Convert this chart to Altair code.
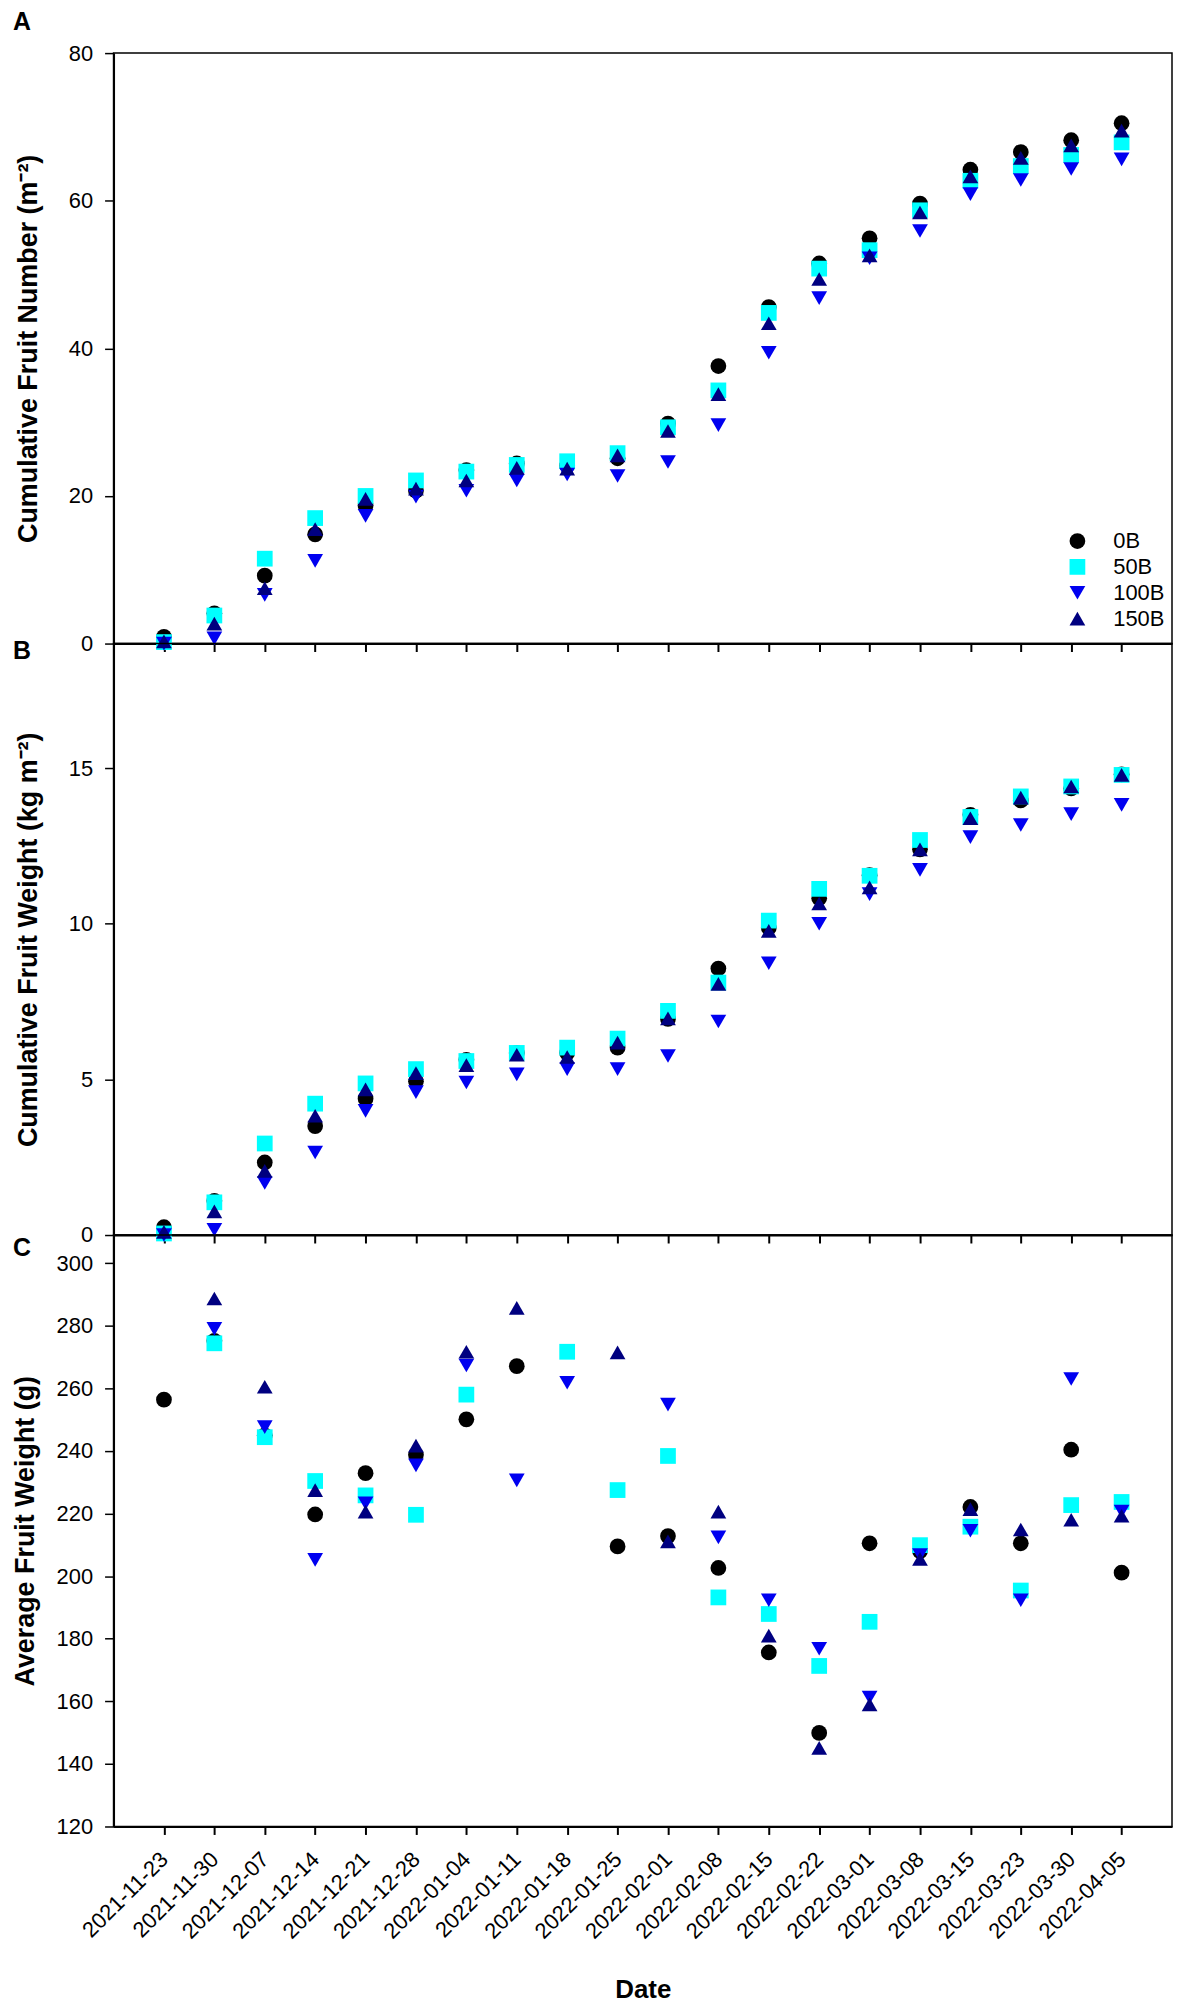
import altair as alt
import pandas as pd

dates = ["2021-11-23", "2021-11-30", "2021-12-07", "2021-12-14", "2021-12-21", "2021-12-28",
         "2022-01-04", "2022-01-11", "2022-01-18", "2022-01-25", "2022-02-01", "2022-02-08",
         "2022-02-15", "2022-02-22", "2022-03-01", "2022-03-08", "2022-03-15", "2022-03-23",
         "2022-03-30", "2022-04-05"]
treatments = ["0B", "50B", "100B", "150B"]

# Panel A: cumulative fruit number (m-2)
num_0B = [0.9, 4.1, 9.2, 14.8, 18.7, 20.7, 23.5, 24.4, 24.1, 25.1, 29.8, 37.6, 45.6, 51.5, 54.9, 59.6, 64.2, 66.6, 68.2, 70.5]
num_50B = [0.2, 3.8, 11.5, 17.0, 20.0, 22.1, 23.3, 24.2, 24.7, 25.8, 29.3, 34.3, 44.8, 50.8, 53.3, 58.7, 62.7, 64.7, 66.2, 67.9]
num_100B = [0.0, 0.7, 6.6, 11.2, 17.3, 19.9, 20.7, 22.1, 22.9, 22.7, 24.6, 29.6, 39.4, 46.8, 52.2, 55.9, 60.9, 62.8, 64.3, 65.6]
num_150B = [0.3, 2.7, 7.5, 15.5, 19.6, 21.0, 22.1, 23.8, 23.7, 25.5, 28.8, 33.8, 43.4, 49.4, 52.6, 58.4, 63.3, 65.8, 67.5, 69.5]

# Panel B: cumulative fruit weight (kg m-2)
wt_0B = [0.25, 1.1, 2.33, 3.50, 4.38, 4.94, 5.63, 5.85, 5.85, 6.02, 6.94, 8.56, 9.87, 10.82, 11.56, 12.39, 13.5, 13.96, 14.35, 14.8]
wt_50B = [0.05, 1.05, 2.94, 4.22, 4.87, 5.33, 5.59, 5.85, 6.02, 6.31, 7.2, 8.11, 10.1, 11.12, 11.54, 12.69, 13.43, 14.09, 14.41, 14.78]
wt_100B = [0.0, 0.17, 1.67, 2.65, 3.99, 4.59, 4.9, 5.16, 5.33, 5.33, 5.75, 6.86, 8.73, 10.0, 10.95, 11.73, 12.78, 13.17, 13.52, 13.82]
wt_150B = [0.1, 0.76, 2.06, 3.83, 4.68, 5.2, 5.46, 5.79, 5.72, 6.18, 6.96, 8.07, 9.77, 10.65, 11.17, 12.39, 13.39, 14.05, 14.41, 14.78]

# Panel C: average fruit weight (g); None = no point
avg_0B = [256.4, 275.2, 245.0, 219.7, 232.9, 238.8, 250.1, 267.1, None, 209.5, 212.8, 202.6, 175.6, 149.9, 210.5, 208.0, 222.1, 210.5, 240.4, 201.1]
avg_50B = [None, 274.4, 244.4, 230.4, 225.8, 219.6, 258.0, None, 271.7, 227.5, 238.4, 193.2, 187.9, 171.3, 185.4, 209.9, 215.8, 195.4, 222.7, 223.7]
avg_100B = [None, 279.0, 247.6, 205.2, 223.3, 235.4, 267.3, 230.6, 261.8, None, 254.8, 212.4, 192.3, 176.8, 161.2, 206.7, 214.5, 192.3, 263.0, 220.6]
avg_150B = [None, 288.7, 260.5, 227.5, 220.6, 241.7, 271.7, 285.7, None, 271.5, 211.1, 220.6, 181.0, 145.1, 159.0, 205.5, 221.4, 214.9, 218.0, 219.3]

colors = ["#000000", "#00ffff", "#0000f0", "#000080"]
shapes = ["circle", "square", "triangle-down", "triangle-up"]

FONT = "Liberation Sans"


def long_df(series):
    rows = []
    for t, vals in zip(treatments, series):
        for d, v in zip(dates, vals):
            if v is not None:
                rows.append({"date": d, "treatment": t, "value": v})
    return pd.DataFrame(rows)


df_a = long_df([num_0B, num_50B, num_100B, num_150B])
df_b = long_df([wt_0B, wt_50B, wt_100B, wt_150B])
df_c = long_df([avg_0B, avg_50B, avg_100B, avg_150B])

W = 1063


def panel(df, ytitle, domain, ticks, letter, letter_dy, height, bottom, legend, title_pad):
    if bottom:
        xaxis = alt.Axis(title="Date", labelAngle=-45, labelFontSize=22, labelPadding=21,
                         labelAlign="right", labelBaseline="middle",
                         titleFontSize=26, titleFontWeight="bold", titlePadding=34,
                         tickSize=8, tickWidth=2, domainWidth=2, grid=False)
    else:
        xaxis = alt.Axis(title=None, labels=False, tickSize=8, tickWidth=2,
                         domainWidth=2, grid=False)
    if legend:
        leg = alt.Legend(orient="none", legendX=957, legendY=479, title=None,
                         labelFontSize=22, symbolSize=250, labelOffset=25,
                         rowPadding=4, padding=0, symbolStrokeWidth=0,
                         labelColor="black", labelFont=FONT)
    else:
        leg = None
    return alt.Chart(df).mark_point(filled=True, size=250, opacity=1, strokeWidth=0).encode(
        x=alt.X("date:O", sort=dates,
                scale=alt.Scale(type="point", padding=1, domain=dates), axis=xaxis),
        y=alt.Y("value:Q", scale=alt.Scale(domain=domain, nice=False, zero=False),
                axis=alt.Axis(values=ticks, title=ytitle, titleFontSize=27,
                              titleFontWeight="bold", titlePadding=title_pad,
                              labelFontSize=22, labelPadding=12, tickSize=9,
                              tickWidth=1.5, domainWidth=2, grid=False)),
        color=alt.Color("treatment:N", sort=treatments,
                        scale=alt.Scale(domain=treatments, range=colors), legend=leg),
        shape=alt.Shape("treatment:N", sort=treatments,
                        scale=alt.Scale(domain=treatments, range=shapes), legend=leg),
    ).properties(
        width=W, height=height,
        title=alt.TitleParams(text=letter, anchor="start", frame="group", orient="top",
                              fontSize=25, fontWeight="bold", dx=-101, dy=letter_dy,
                              offset=0, baseline="alphabetic", color="black", font=FONT),
    )


pa = panel(df_a, "Cumulative Fruit Number (m⁻²)", [0, 80], [0, 20, 40, 60, 80],
           "A", 13, 593, False, True, 26)
pb = panel(df_b, "Cumulative Fruit Weight (kg m⁻²)", [0, 19], [0, 5, 10, 15],
           "B", 40, 594, False, False, 26)
pc = panel(df_c, "Average Fruit Weight (g)", [120, 309], list(range(120, 301, 20)),
           "C", 46, 594, True, False, 17)

chart = alt.vconcat(pa, pb, pc, spacing=0, bounds="flush").resolve_scale(
    color="independent", shape="independent", y="independent"
).properties(
    padding={"left": 2, "top": -3, "right": 0, "bottom": 0}
).configure(
    font=FONT
).configure_view(
    stroke="black", strokeWidth=1.5
).configure_axis(
    labelColor="black", titleColor="black", tickColor="black", domainColor="black",
    labelFont=FONT, titleFont=FONT
)

chart.save("out.html", embed_options={"renderer": "svg", "actions": False})
